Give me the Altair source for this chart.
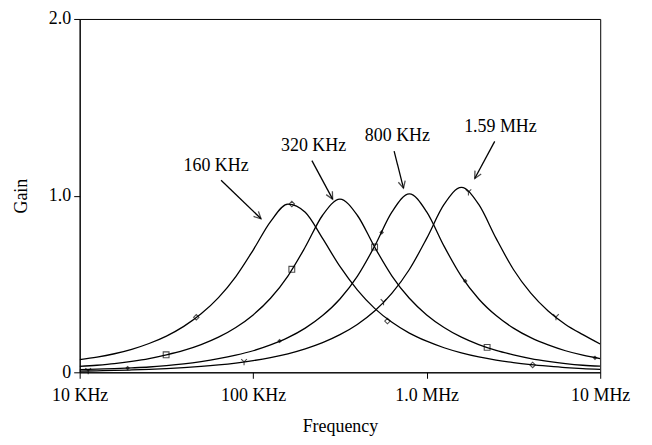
import math
import altair as alt
import pandas as pd

# ---- data ----
FREQ_HZ = [10000, 12589, 15849, 19953, 25119, 31623, 39811, 50119, 63096, 79433,
           100000, 125893, 158489, 199526, 251189, 316228, 398107, 501187, 630957, 794328,
           1000000, 1258925, 1584893, 1995262, 2511886, 3162278, 3981072, 5011872, 6309573, 7943282,
           10000000]

GAIN_160K = [0.072, 0.086, 0.105, 0.130, 0.163, 0.205, 0.260, 0.331, 0.423, 0.542,
             0.692, 0.853, 0.952, 0.906, 0.758, 0.599, 0.467, 0.362, 0.283, 0.222,
             0.176, 0.139, 0.110, 0.087, 0.069, 0.055, 0.044, 0.035, 0.027, 0.021, 0.017]
GAIN_320K = [0.033, 0.040, 0.049, 0.062, 0.078, 0.099, 0.124, 0.157, 0.199, 0.254,
             0.325, 0.419, 0.545, 0.709, 0.889, 0.980, 0.889, 0.709, 0.545, 0.419,
             0.325, 0.254, 0.199, 0.157, 0.124, 0.099, 0.078, 0.062, 0.049, 0.040, 0.035]
GAIN_800K = [0.015, 0.018, 0.021, 0.025, 0.030, 0.038, 0.048, 0.061, 0.077, 0.097,
             0.122, 0.155, 0.196, 0.250, 0.321, 0.415, 0.543, 0.714, 0.908, 1.010,
             0.908, 0.714, 0.543, 0.415, 0.321, 0.250, 0.196, 0.155, 0.122, 0.097, 0.078]
GAIN_1_59M = [0.0066, 0.0083, 0.0105, 0.0132, 0.0166, 0.0209, 0.0263, 0.0331, 0.0417, 0.0525,
              0.0662, 0.0834, 0.105, 0.133, 0.168, 0.213, 0.271, 0.347, 0.448, 0.582,
              0.758, 0.950, 1.047, 0.950, 0.758, 0.582, 0.448, 0.347, 0.271, 0.213, 0.160]

SERIES = ["160 KHz", "320 KHz", "800 KHz", "1.59 MHz"]

# marker points on each curve
MARK_FREQ_160K = [47000, 167000, 594000, 4080000]
MARK_GAIN_160K = [0.311, 0.952, 0.290, 0.042]
MARK_FREQ_320K = [31500, 167000, 501000, 2230000]
MARK_GAIN_320K = [0.099, 0.583, 0.709, 0.141]
MARK_FREQ_800K = [18900, 142000, 550000, 1667000, 9330000]
MARK_GAIN_800K = [0.024, 0.177, 0.792, 0.517, 0.082]
MARK_FREQ_1_59M = [11200, 88600, 564000, 1740000, 5560000]
MARK_GAIN_1_59M = [0.0075, 0.059, 0.398, 1.020, 0.313]

# annotations
LABEL_TEXT = ["160 KHz", "320 KHz", "800 KHz", "1.59 MHz"]
LABEL_FREQ = [61100, 223000, 678000, 2661000]
LABEL_GAIN = [1.170, 1.281, 1.337, 1.391]
ARROW_FREQ_FROM = [65300, 218000, 649000, 2466000]
ARROW_GAIN_FROM = [1.087, 1.198, 1.252, 1.307]
ARROW_FREQ_TO = [111000, 287000, 735000, 1892000]
ARROW_GAIN_TO = [0.869, 0.980, 1.042, 1.097]

X_TICKS = [10000, 100000, 1000000, 10000000]
X_TICK_LABELS = ["10 KHz", "100 KHz", "1.0 MHz", "10 MHz"]
Y_TICKS = [0, 1, 2]
Y_TICK_LABELS = ["0", "1.0", "2.0"]

W, H = 523, 355
FONT = "Liberation Serif"
FS = 18

# ---- tables ----
rows = []
for name, gains in zip(SERIES, [GAIN_160K, GAIN_320K, GAIN_800K, GAIN_1_59M]):
    for f, g in zip(FREQ_HZ, gains):
        rows.append({"series": name, "freq": f, "gain": g})
curves = pd.DataFrame(rows)

def marks(fs, gs):
    return pd.DataFrame({"freq": fs, "gain": gs})

def px(f):
    return (math.log10(f) - 4) / 3 * W

def py(g):
    return H * (1 - g / 2)

arrows = pd.DataFrame({
    "f1": ARROW_FREQ_FROM, "g1": ARROW_GAIN_FROM,
    "f2": ARROW_FREQ_TO, "g2": ARROW_GAIN_TO,
})
arrows["angle"] = [
    (math.degrees(math.atan2(px(b) - px(a), -(py(d) - py(c)))) + 360) % 360
    for a, c, b, d in zip(ARROW_FREQ_FROM, ARROW_GAIN_FROM, ARROW_FREQ_TO, ARROW_GAIN_TO)
]
labels = pd.DataFrame({"text": LABEL_TEXT, "freq": LABEL_FREQ, "gain": LABEL_GAIN})

def lab_expr(vals, texts):
    parts = []
    for v, t in zip(vals, texts):
        parts.append(f"abs(datum.value - {v}) < {max(v, 1) * 0.01} ? '{t}' : ")
    return "".join(parts) + "''"

xscale = alt.Scale(type="log", domain=[1e4, 1e7], nice=False)
yscale = alt.Scale(domain=[0, 2], nice=False, zero=True)

common_axis = dict(grid=False, tickSize=6, labelOverlap=False, domainColor="black",
                   tickColor="black", labelFont=FONT, titleFont=FONT, labelFontSize=FS,
                   titleFontSize=FS, labelColor="black", titleColor="black",
                   titleFontWeight="normal", domainWidth=1, tickWidth=1)
xaxis = alt.Axis(values=X_TICKS, labelExpr=lab_expr(X_TICKS, X_TICK_LABELS), title="Frequency",
                 labelPadding=8, titlePadding=13, labelFlush=False, **common_axis)
yaxis = alt.Axis(values=Y_TICKS, labelExpr=lab_expr(Y_TICKS, Y_TICK_LABELS), title="Gain",
                 labelPadding=3, titlePadding=18, **common_axis)

base_x = alt.X("freq:Q", scale=xscale, axis=xaxis)
base_y = alt.Y("gain:Q", scale=yscale, axis=yaxis)

lines = alt.Chart(curves).mark_line(color="black", strokeWidth=1.3, clip=True,
                                    interpolate="monotone").encode(
    x=base_x, y=base_y, detail="series:N")

def point_layer(df, **kw):
    return alt.Chart(df).mark_point(color="black", strokeWidth=1.1, **kw).encode(
        x=alt.X("freq:Q", scale=xscale), y=alt.Y("gain:Q", scale=yscale))

p1 = point_layer(marks(MARK_FREQ_160K, MARK_GAIN_160K), shape="diamond", size=30, filled=False)
p2 = point_layer(marks(MARK_FREQ_320K, MARK_GAIN_320K), shape="square", size=34, filled=False)
p3 = point_layer(marks(MARK_FREQ_800K, MARK_GAIN_800K), shape="diamond", size=22, filled=True)
p4 = point_layer(marks(MARK_FREQ_1_59M, MARK_GAIN_1_59M),
                 shape="M0,0L0,1M0,0L-0.85,-0.85M0,0L0.85,-0.85", size=45, filled=False)

arrow_lines = alt.Chart(arrows).mark_rule(color="black", strokeWidth=1.3).encode(
    x=alt.X("f1:Q", scale=xscale), y=alt.Y("g1:Q", scale=yscale),
    x2="f2:Q", y2="g2:Q")
arrow_heads = alt.Chart(arrows).mark_point(
    shape="M-0.5,1L0,0L0.5,1", size=200, filled=False, color="black", strokeWidth=1.3).encode(
    x=alt.X("f2:Q", scale=xscale), y=alt.Y("g2:Q", scale=yscale),
    angle=alt.Angle("angle:Q", scale=None))

texts = alt.Chart(labels).mark_text(font=FONT, fontSize=FS, color="black",
                                    align="center", baseline="middle").encode(
    x=alt.X("freq:Q", scale=xscale), y=alt.Y("gain:Q", scale=yscale), text="text:N")

chart = alt.layer(lines, p1, p2, p3, p4, arrow_lines, arrow_heads, texts).properties(
    width=W, height=H,
    padding={"left": 72, "top": 10, "right": 44, "bottom": 68},
    autosize=alt.AutoSizeParams(type="none"),
    background="white",
).configure_view(stroke="black", strokeWidth=1)

chart.save("out.html", embed_options={"renderer": "svg", "actions": False})
